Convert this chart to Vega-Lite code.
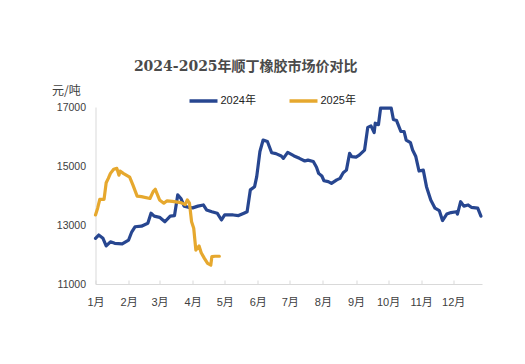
{
  "$schema": "https://vega.github.io/schema/vega-lite/v6.json",
  "width": 386.5,
  "height": 177,
  "autosize": {"type": "none"},
  "padding": {"left": 95.5, "top": 107, "right": 43, "bottom": 80},
  "background": "white",
  "title": {
    "text": "2024-2025年顺丁橡胶市场价对比",
    "font": "DejaVu Serif, Noto Sans CJK SC",
    "fontSize": 14,
    "fontWeight": "bold",
    "color": "#4a4a4a",
    "anchor": "middle",
    "frame": "group",
    "dx": -43,
    "offset": 10
  },
  "data": {
    "values": [
      {"date": "2024/01/01", "series": "2024年", "price": 12550},
      {"date": "2024/01/04", "series": "2024年", "price": 12660},
      {"date": "2024/01/08", "series": "2024年", "price": 12550},
      {"date": "2024/01/11", "series": "2024年", "price": 12290},
      {"date": "2024/01/15", "series": "2024年", "price": 12430},
      {"date": "2024/01/19", "series": "2024年", "price": 12380},
      {"date": "2024/01/26", "series": "2024年", "price": 12360},
      {"date": "2024/02/01", "series": "2024年", "price": 12490},
      {"date": "2024/02/04", "series": "2024年", "price": 12770},
      {"date": "2024/02/07", "series": "2024年", "price": 12940},
      {"date": "2024/02/13", "series": "2024年", "price": 12960},
      {"date": "2024/02/19", "series": "2024年", "price": 13060},
      {"date": "2024/02/22", "series": "2024年", "price": 13400},
      {"date": "2024/02/25", "series": "2024年", "price": 13300},
      {"date": "2024/03/01", "series": "2024年", "price": 13260},
      {"date": "2024/03/06", "series": "2024年", "price": 13110},
      {"date": "2024/03/11", "series": "2024年", "price": 13300},
      {"date": "2024/03/15", "series": "2024年", "price": 13320},
      {"date": "2024/03/18", "series": "2024年", "price": 14020},
      {"date": "2024/03/21", "series": "2024年", "price": 13900},
      {"date": "2024/03/24", "series": "2024年", "price": 13640},
      {"date": "2024/03/28", "series": "2024年", "price": 13600},
      {"date": "2024/04/01", "series": "2024年", "price": 13580},
      {"date": "2024/04/06", "series": "2024年", "price": 13640},
      {"date": "2024/04/11", "series": "2024年", "price": 13680},
      {"date": "2024/04/14", "series": "2024年", "price": 13510},
      {"date": "2024/04/19", "series": "2024年", "price": 13450},
      {"date": "2024/04/24", "series": "2024年", "price": 13400},
      {"date": "2024/04/28", "series": "2024年", "price": 13170},
      {"date": "2024/05/01", "series": "2024年", "price": 13340},
      {"date": "2024/05/09", "series": "2024年", "price": 13340},
      {"date": "2024/05/14", "series": "2024年", "price": 13320},
      {"date": "2024/05/19", "series": "2024年", "price": 13400},
      {"date": "2024/05/22", "series": "2024年", "price": 13450},
      {"date": "2024/05/25", "series": "2024年", "price": 14190},
      {"date": "2024/05/29", "series": "2024年", "price": 14300},
      {"date": "2024/05/31", "series": "2024年", "price": 14640},
      {"date": "2024/06/03", "series": "2024年", "price": 15490},
      {"date": "2024/06/06", "series": "2024年", "price": 15880},
      {"date": "2024/06/10", "series": "2024年", "price": 15830},
      {"date": "2024/06/14", "series": "2024年", "price": 15450},
      {"date": "2024/06/18", "series": "2024年", "price": 15420},
      {"date": "2024/06/23", "series": "2024年", "price": 15340},
      {"date": "2024/06/25", "series": "2024年", "price": 15260},
      {"date": "2024/06/29", "series": "2024年", "price": 15460},
      {"date": "2024/07/05", "series": "2024年", "price": 15340},
      {"date": "2024/07/10", "series": "2024年", "price": 15260},
      {"date": "2024/07/15", "series": "2024年", "price": 15170},
      {"date": "2024/07/18", "series": "2024年", "price": 15200},
      {"date": "2024/07/23", "series": "2024年", "price": 15150},
      {"date": "2024/07/26", "series": "2024年", "price": 14960},
      {"date": "2024/07/28", "series": "2024年", "price": 14750},
      {"date": "2024/07/31", "series": "2024年", "price": 14660},
      {"date": "2024/08/02", "series": "2024年", "price": 14500},
      {"date": "2024/08/06", "series": "2024年", "price": 14470},
      {"date": "2024/08/09", "series": "2024年", "price": 14410},
      {"date": "2024/08/14", "series": "2024年", "price": 14530},
      {"date": "2024/08/17", "series": "2024年", "price": 14580},
      {"date": "2024/08/20", "series": "2024年", "price": 14770},
      {"date": "2024/08/23", "series": "2024年", "price": 14860},
      {"date": "2024/08/26", "series": "2024年", "price": 15430},
      {"date": "2024/08/28", "series": "2024年", "price": 15320},
      {"date": "2024/09/01", "series": "2024年", "price": 15300},
      {"date": "2024/09/04", "series": "2024年", "price": 15370},
      {"date": "2024/09/09", "series": "2024年", "price": 15540},
      {"date": "2024/09/12", "series": "2024年", "price": 16310},
      {"date": "2024/09/15", "series": "2024年", "price": 16360},
      {"date": "2024/09/18", "series": "2024年", "price": 16130},
      {"date": "2024/09/19", "series": "2024年", "price": 16450},
      {"date": "2024/09/22", "series": "2024年", "price": 16400},
      {"date": "2024/09/24", "series": "2024年", "price": 16960},
      {"date": "2024/09/29", "series": "2024年", "price": 16960},
      {"date": "2024/10/04", "series": "2024年", "price": 16960},
      {"date": "2024/10/06", "series": "2024年", "price": 16580},
      {"date": "2024/10/09", "series": "2024年", "price": 16540},
      {"date": "2024/10/13", "series": "2024年", "price": 16170},
      {"date": "2024/10/16", "series": "2024年", "price": 16170},
      {"date": "2024/10/18", "series": "2024年", "price": 15880},
      {"date": "2024/10/22", "series": "2024年", "price": 15790},
      {"date": "2024/10/24", "series": "2024年", "price": 15540},
      {"date": "2024/10/27", "series": "2024年", "price": 15320},
      {"date": "2024/10/30", "series": "2024年", "price": 14830},
      {"date": "2024/11/03", "series": "2024年", "price": 14860},
      {"date": "2024/11/06", "series": "2024年", "price": 14300},
      {"date": "2024/11/10", "series": "2024年", "price": 13850},
      {"date": "2024/11/14", "series": "2024年", "price": 13570},
      {"date": "2024/11/18", "series": "2024年", "price": 13490},
      {"date": "2024/11/21", "series": "2024年", "price": 13150},
      {"date": "2024/11/25", "series": "2024年", "price": 13370},
      {"date": "2024/11/29", "series": "2024年", "price": 13420},
      {"date": "2024/12/04", "series": "2024年", "price": 13450},
      {"date": "2024/12/05", "series": "2024年", "price": 13370},
      {"date": "2024/12/08", "series": "2024年", "price": 13790},
      {"date": "2024/12/11", "series": "2024年", "price": 13640},
      {"date": "2024/12/15", "series": "2024年", "price": 13680},
      {"date": "2024/12/18", "series": "2024年", "price": 13600},
      {"date": "2024/12/24", "series": "2024年", "price": 13570},
      {"date": "2024/12/27", "series": "2024年", "price": 13300},
      {"date": "2025/01/01", "series": "2025年", "price": 13340},
      {"date": "2025/01/03", "series": "2025年", "price": 13570},
      {"date": "2025/01/05", "series": "2025年", "price": 13870},
      {"date": "2025/01/09", "series": "2025年", "price": 13870},
      {"date": "2025/01/11", "series": "2025年", "price": 14430},
      {"date": "2025/01/13", "series": "2025年", "price": 14580},
      {"date": "2025/01/15", "series": "2025年", "price": 14750},
      {"date": "2025/01/18", "series": "2025年", "price": 14890},
      {"date": "2025/01/21", "series": "2025年", "price": 14920},
      {"date": "2025/01/23", "series": "2025年", "price": 14690},
      {"date": "2025/01/24", "series": "2025年", "price": 14830},
      {"date": "2025/01/27", "series": "2025年", "price": 14750},
      {"date": "2025/02/02", "series": "2025年", "price": 14620},
      {"date": "2025/02/05", "series": "2025年", "price": 14360},
      {"date": "2025/02/09", "series": "2025年", "price": 13980},
      {"date": "2025/02/13", "series": "2025年", "price": 13960},
      {"date": "2025/02/21", "series": "2025年", "price": 13900},
      {"date": "2025/02/24", "series": "2025年", "price": 14130},
      {"date": "2025/02/26", "series": "2025年", "price": 14210},
      {"date": "2025/03/01", "series": "2025年", "price": 13850},
      {"date": "2025/03/05", "series": "2025年", "price": 13740},
      {"date": "2025/03/08", "series": "2025年", "price": 13820},
      {"date": "2025/03/13", "series": "2025年", "price": 13800},
      {"date": "2025/03/21", "series": "2025年", "price": 13760},
      {"date": "2025/03/25", "series": "2025年", "price": 13690},
      {"date": "2025/03/27", "series": "2025年", "price": 13850},
      {"date": "2025/03/29", "series": "2025年", "price": 13740},
      {"date": "2025/03/31", "series": "2025年", "price": 13110},
      {"date": "2025/04/02", "series": "2025年", "price": 12890},
      {"date": "2025/04/04", "series": "2025年", "price": 12150},
      {"date": "2025/04/07", "series": "2025年", "price": 12290},
      {"date": "2025/04/09", "series": "2025年", "price": 12060},
      {"date": "2025/04/12", "series": "2025年", "price": 11870},
      {"date": "2025/04/15", "series": "2025年", "price": 11700},
      {"date": "2025/04/18", "series": "2025年", "price": 11640},
      {"date": "2025/04/19", "series": "2025年", "price": 11930},
      {"date": "2025/04/22", "series": "2025年", "price": 11940},
      {"date": "2025/04/26", "series": "2025年", "price": 11940}
    ]
  },
  "mark": {"type": "line", "strokeWidth": 3.2, "strokeJoin": "round", "strokeCap": "round"},
  "encoding": {
    "x": {
      "field": "date",
      "timeUnit": "monthdate",
      "type": "temporal",
      "scale": {"domain": [{"year": 2012, "month": 1, "date": 1}, {"year": 2012, "month": 12, "date": 28}]},
      "axis": {
        "title": null,
        "format": "%-m月",
        "tickCount": {"interval": "month", "step": 1},
        "grid": false,
        "domainColor": "#d9d9d9",
        "tickColor": "#d9d9d9",
        "tickSize": -4,
        "labelPadding": 16,
        "labelFont": "Liberation Sans, Noto Sans CJK SC",
        "labelFontSize": 11,
        "labelColor": "#404040",
        "labelAlign": "center",
        "labelFlush": false,
        "labelOverlap": false
      }
    },
    "y": {
      "field": "price",
      "type": "quantitative",
      "scale": {"domain": [11000, 17000], "nice": false, "zero": false},
      "axis": {
        "values": [11000, 13000, 15000, 17000],
        "format": "d",
        "grid": false,
        "ticks": false,
        "domainColor": "#d9d9d9",
        "labelPadding": 10,
        "labelFont": "Liberation Sans",
        "labelFontSize": 10.5,
        "labelColor": "#404040",
        "title": "元/吨",
        "titleAngle": 0,
        "titleAlign": "left",
        "titleBaseline": "alphabetic",
        "titleX": -44,
        "titleY": -13,
        "titleFont": "Noto Sans CJK SC",
        "titleFontSize": 12,
        "titleFontWeight": "normal",
        "titleColor": "#404040"
      }
    },
    "color": {
      "field": "series",
      "type": "nominal",
      "scale": {"domain": ["2024年", "2025年"], "range": ["#274690", "#E6A82E"]},
      "legend": {
        "title": null,
        "orient": "none",
        "legendX": 92,
        "legendY": -22,
        "direction": "horizontal",
        "symbolType": "stroke",
        "symbolSize": 784,
        "symbolStrokeWidth": 3.5,
        "labelFont": "Liberation Sans, Noto Sans CJK SC",
        "labelFontSize": 11,
        "labelColor": "#222222",
        "labelOffset": 1,
        "columnPadding": 26
      }
    }
  },
  "config": {"view": {"stroke": null}}
}
